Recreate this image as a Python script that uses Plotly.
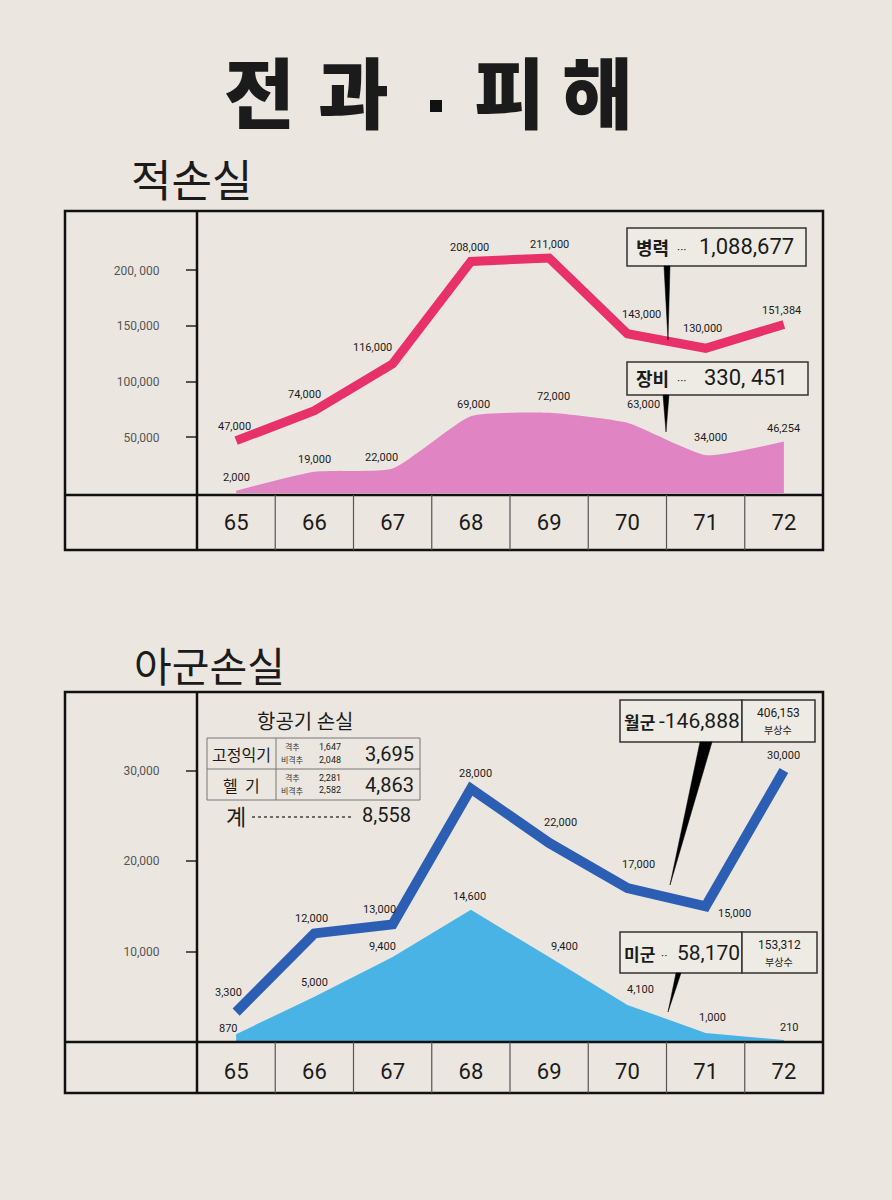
import plotly.graph_objects as go

W, H = 892, 1200
def X(px): return px / W
def Y(py): return 1 - py / H

# ---------------- data ----------------
years = ["65", "66", "67", "68", "69", "70", "71", "72"]
enemy_personnel = [47000, 74000, 116000, 208000, 211000, 143000, 130000, 151384]
enemy_equipment = [2000, 19000, 22000, 69000, 72000, 63000, 34000, 46254]
arvn_killed = [3300, 12000, 13000, 28000, 22000, 17000, 15000, 30000]
us_killed = [870, 5000, 9400, 14600, 9400, 4100, 1000, 210]

top_tickvals = [50000, 100000, 150000, 200000]
top_ticktext = ["50,000", "100,000", "150,000", "200, 000"]
bottom_tickvals = [10000, 20000, 30000]
bottom_ticktext = ["10,000", "20,000", "30,000"]

title_chars = ["전", "과", "피", "해"]
enemy_personnel_total = "1,088,677"
enemy_equipment_total = "330, 451"
arvn_total = "146,888"
arvn_wounded = "406,153"
us_total = "58,170"
us_wounded = "153,312"

aircraft_rows = ["고정익기", "헬  기"]
aircraft_shot = ["1,647", "2,281"]
aircraft_other = ["2,048", "2,582"]
aircraft_sum = ["3,695", "4,863"]
aircraft_total = "8,558"

# label offsets (px) for value labels: (dx, dy)
off_personnel = [(-2, 14), (-10, 16), (-20, 16), (-1, 14), (0, 14), (14, 19), (-3, 20), (-2, 14)]
off_equipment = [(0, 13), (0, 12), (-11, 11), (3, 12), (4, 16), (16, 18), (5, 18), (0, 13)]
off_arvn = [(-8, 20), (-3, 15), (-13, 15), (5, 15), (11, 20), (11, 24), (29, -7), (0, 15)]
off_us = [(-8, 6), (0, 14), (-10, 10), (-1, 13), (15, 10), (13, 15), (7, 15), (6, 13)]

# ---------------- styles ----------------
BG = "#ebe7e0"
PINK_LINE = "#e8316b"
PINK_FILL = "#e184c3"
BLUE_LINE = "#2c5fb4"
BLUE_FILL = "#4ab3e6"
INK = "#1b1b1b"
KR = "Noto Sans CJK KR"
NUM = "Roboto, Liberation Sans, sans-serif"

fig = go.Figure()
fig.add_trace(go.Scatter(x=years, y=enemy_equipment, mode="lines",
                         line=dict(width=0, shape="spline", smoothing=0.5, color=PINK_FILL),
                         fill="tozeroy", fillcolor=PINK_FILL, xaxis="x", yaxis="y", hoverinfo="skip"))
fig.add_trace(go.Scatter(x=years, y=enemy_personnel, mode="lines",
                         line=dict(width=9, color=PINK_LINE), xaxis="x", yaxis="y"))
fig.add_trace(go.Scatter(x=years, y=us_killed, mode="lines",
                         line=dict(width=0, color=BLUE_FILL),
                         fill="tozeroy", fillcolor=BLUE_FILL, xaxis="x2", yaxis="y2", hoverinfo="skip"))
fig.add_trace(go.Scatter(x=years, y=arvn_killed, mode="lines",
                         line=dict(width=10, color=BLUE_LINE), xaxis="x2", yaxis="y2"))

ann = []
def txt(x, y, s, size, family=NUM, color=INK, weight=400, xanchor="center"):
    ann.append(dict(x=X(x), y=Y(y), xref="paper", yref="paper", text=s, showarrow=False,
                    xanchor=xanchor, yanchor="middle",
                    font=dict(family=family, size=size, color=color, weight=weight)))

def val_labels(vals, offs, xa, ya):
    for i, v in enumerate(vals):
        dx, dy = offs[i]
        ann.append(dict(x=i, y=v, xref=xa, yref=ya, text=f"{v:,}", showarrow=False,
                        xanchor="center", yanchor="middle", xshift=dx, yshift=dy,
                        font=dict(family=NUM, size=11, color=INK)))

val_labels(enemy_personnel, off_personnel, "x", "y")
val_labels(enemy_equipment, off_equipment, "x", "y")
val_labels(arvn_killed, off_arvn, "x2", "y2")
val_labels(us_killed, off_us, "x2", "y2")

shapes = []
def line(x0, y0, x1, y1, w=2.5, c="#111", dash="solid"):
    shapes.append(dict(type="line", xref="paper", yref="paper", x0=X(x0), y0=Y(y0),
                       x1=X(x1), y1=Y(y1), line=dict(color=c, width=w, dash=dash), layer="above"))
def rect(x0, y0, x1, y1, w=1.5, c="#333", fill="rgba(0,0,0,0)"):
    shapes.append(dict(type="rect", xref="paper", yref="paper", x0=X(x0), y0=Y(y0),
                       x1=X(x1), y1=Y(y1), line=dict(color=c, width=w), fillcolor=fill, layer="above"))
def poly(pts, c="#000"):
    p = "M " + " L ".join(f"{X(a):.5f},{Y(b):.5f}" for a, b in pts) + " Z"
    shapes.append(dict(type="path", xref="paper", yref="paper", path=p,
                       fillcolor=c, line=dict(color=c, width=0.5), layer="above"))

# chart frames
for top, mid, bot, xa in [(211, 495, 550, "x"), (692, 1042, 1093, "x2")]:
    rect(65, top, 823, bot, w=2.5, c="#111")
    line(197, top, 197, bot, w=2.5)
    line(65, mid, 823, mid, w=2.5)
    for i in range(7):
        shapes.append(dict(type="line", xref=xa, yref="paper", x0=i + 0.5, x1=i + 0.5,
                           y0=Y(mid), y1=Y(bot), line=dict(color="#555", width=1.2), layer="above"))

# title
for ch, cx in zip(title_chars, [259, 353, 509, 597]):
    txt(cx, 89, ch, 77, family=KR, weight=900)
rect(430, 100, 442, 112, w=0, c="#111", fill="#111")
txt(129, 178, "적손실", 44, family=KR, xanchor="left")
txt(132, 664, "아군손실", 41, family=KR, xanchor="left")

# top boxes
rect(627, 228, 806, 266, fill="#eeebe5")
txt(652, 247, "병력", 18, family=KR, weight=700)
txt(681, 250, "···", 12)
txt(746, 247, enemy_personnel_total, 22)
poly([(664, 266), (670, 266), (668, 340)])

rect(627, 362, 808, 395, fill="#eeebe5")
txt(652, 378, "장비", 18, family=KR, weight=700)
txt(681, 381, "···", 12)
txt(746, 378, enemy_equipment_total, 22)
poly([(663, 395), (669, 395), (666, 432)])

# bottom boxes
rect(620, 700, 742, 742, fill="#eeebe5")
rect(742, 700, 815, 742, fill="#eeebe5")
txt(639, 721, "월군", 17, family=KR, weight=700)
txt(699, 721, "-" + arvn_total, 21)
txt(778, 713, arvn_wounded, 12)
txt(778, 729, "부상수", 10, family=KR)
poly([(700, 742), (712, 742), (670, 885)])

rect(620, 932, 742, 973, fill="#eeebe5")
rect(742, 932, 817, 973, fill="#eeebe5")
txt(639, 953, "미군", 17, family=KR, weight=700)
txt(664, 956, "··", 12)
txt(708, 953, us_total, 21)
txt(779, 945, us_wounded, 12)
txt(779, 961, "부상수", 10, family=KR)
poly([(676, 973), (681, 973), (668, 1012)])

# aircraft table
txt(305, 720, "항공기 손실", 20, family=KR)
rect(207, 738, 420, 800, w=1, c="#777")
line(207, 769, 420, 769, w=1, c="#777")
line(276, 738, 276, 800, w=1, c="#777")
for r, yc in enumerate([753.5, 784.5]):
    txt(241, yc, aircraft_rows[r], 16, family=KR)
    txt(292, yc - 7, "격추", 8, family=KR, color="#333")
    txt(292, yc + 6, "비격추", 8, family=KR, color="#333")
    txt(330, yc - 7, aircraft_shot[r], 9)
    txt(330, yc + 6, aircraft_other[r], 9)
    txt(389, yc, aircraft_sum[r], 20)
txt(236, 815, "계", 22, family=KR)
line(252, 817, 352, 817, w=1.3, c="#444", dash="dot")
txt(386, 815, aircraft_total, 20)

axis_common = dict(showgrid=False, zeroline=False, showline=False, fixedrange=True)
fig.update_layout(
    width=W, height=H, margin=dict(l=0, r=0, t=0, b=0),
    paper_bgcolor=BG, plot_bgcolor="rgba(0,0,0,0)", showlegend=False,
    xaxis=dict(domain=[X(197), X(823)], type="category", range=[-0.5, 7.5], anchor="y",
               ticks="", tickfont=dict(family=NUM, size=22, color=INK), ticklabelstandoff=14,
               **axis_common),
    yaxis=dict(domain=[Y(493), Y(211)], range=[0, 282 / 55.67 * 50000], anchor="x",
               tickvals=top_tickvals, ticktext=top_ticktext, ticks="outside", ticklen=10,
               tickwidth=1.5, tickcolor="#555", ticklabelstandoff=24,
               tickfont=dict(family=NUM, size=12, color="#555"), **axis_common),
    xaxis2=dict(domain=[X(197), X(823)], type="category", range=[-0.5, 7.5], anchor="y2",
                ticks="", tickfont=dict(family=NUM, size=22, color=INK), ticklabelstandoff=14,
                **axis_common),
    yaxis2=dict(domain=[Y(1042), Y(692)], range=[0, 350 / 90.5 * 10000], anchor="x2",
                tickvals=bottom_tickvals, ticktext=bottom_ticktext, ticks="outside", ticklen=10,
                tickwidth=1.5, tickcolor="#555", ticklabelstandoff=24,
                tickfont=dict(family=NUM, size=12, color="#555"), **axis_common),
    shapes=shapes, annotations=ann,
)
fig.write_html("out.html", config={"displayModeBar": False},
               post_script="document.body.style.margin='0';document.body.style.overflow='hidden';")
